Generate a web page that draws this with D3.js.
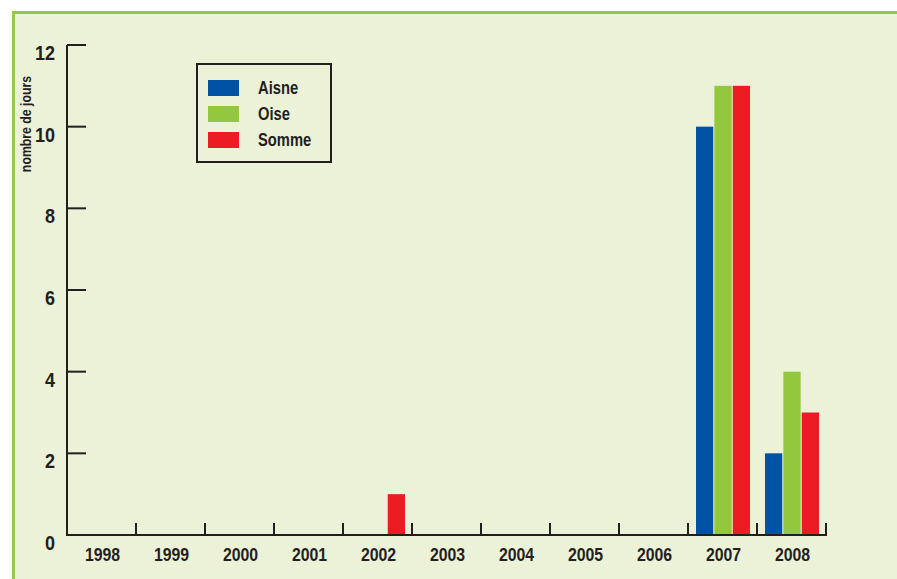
<!DOCTYPE html>
<html>
<head>
<meta charset="utf-8">
<script src="https://cdn.jsdelivr.net/npm/d3@7"></script>
<style>
  html, body { margin: 0; padding: 0; background: #ffffff; }
  svg { display: block; }
</style>
</head>
<body>
<svg id="chart" width="897" height="579"></svg>
<script>
// Number of days per year and per département
const years = ["1998", "1999", "2000", "2001", "2002", "2003", "2004", "2005", "2006", "2007", "2008"];
const seriesNames = ["Aisne", "Oise", "Somme"];
const aisne = [0, 0, 0, 0, 0, 0, 0, 0, 0, 10, 2];
const oise  = [0, 0, 0, 0, 0, 0, 0, 0, 0, 11, 4];
const somme = [0, 0, 0, 0, 1, 0, 0, 0, 0, 11, 3];
const yTicks = [0, 2, 4, 6, 8, 10, 12];
const yTitle = "nombre de jours";

const seriesValues = [aisne, oise, somme];
const colors = ["#0052a5", "#93c83e", "#ed1b24"];

const svg = d3.select("#chart");
const W = 897, H = 579;

// Panel background with green frame on top and left
svg.append("rect").attr("x", 12).attr("y", 11).attr("width", W - 12).attr("height", H - 11)
  .attr("fill", "#ecf2d8");
svg.append("path")
  .attr("d", `M13.5,${H} V12.5 H${W}`)
  .attr("fill", "none").attr("stroke", "#93c84a").attr("stroke-width", 3);

const x0 = 67, x1 = 826, yBase = 535, yTop = 45;

const x = d3.scaleBand().domain(years).range([x0, x1]).paddingInner(0).paddingOuter(0);
const xs = d3.scaleBand().domain(seriesNames).range([8, x.bandwidth() - 7]).paddingInner(0.06);
const y = d3.scaleLinear().domain([0, 12]).range([yBase, yTop]);

const ink = "#231f20";
const font = "'Liberation Sans', Arial, sans-serif";
const condense = 0.82; // horizontal squeeze for the condensed labels

// Bars
const rows = [];
years.forEach((yr, i) => seriesNames.forEach((s, j) => {
  rows.push({ year: yr, series: s, value: seriesValues[j][i], color: colors[j] });
}));
svg.append("g").selectAll("rect")
  .data(rows.filter(d => d.value > 0))
  .join("rect")
  .attr("x", d => x(d.year) + xs(d.series))
  .attr("y", d => y(d.value))
  .attr("width", xs.bandwidth())
  .attr("height", d => yBase - y(d.value))
  .attr("fill", d => d.color);

// Y axis: line with inward ticks
const yAxis = svg.append("g");
yAxis.append("line").attr("x1", x0).attr("x2", x0).attr("y1", y(12)).attr("y2", yBase)
  .attr("stroke", ink).attr("stroke-width", 2);
yAxis.selectAll("line.tk").data(yTicks.filter(t => t > 0)).join("line").attr("class", "tk")
  .attr("x1", x0).attr("x2", x0 + 19)
  .attr("y1", d => y(d)).attr("y2", d => y(d))
  .attr("stroke", ink).attr("stroke-width", 2);
yAxis.selectAll("text").data(yTicks).join("text")
  .attr("transform", d => `translate(55,${y(d) + 15}) scale(0.9,1)`)
  .attr("text-anchor", "end")
  .attr("font-family", font).attr("font-weight", "bold").attr("font-size", 20)
  .attr("fill", ink)
  .text(d => d);

// X axis: baseline with upward ticks at band edges
const xAxis = svg.append("g");
xAxis.append("line").attr("x1", x0 - 1).attr("x2", x1 + 1).attr("y1", yBase).attr("y2", yBase)
  .attr("stroke", ink).attr("stroke-width", 2);
const edges = years.map(d => x(d)).concat([x1]);
xAxis.selectAll("line.tk").data(edges).join("line").attr("class", "tk")
  .attr("x1", d => d).attr("x2", d => d)
  .attr("y1", yBase).attr("y2", yBase - 12)
  .attr("stroke", ink).attr("stroke-width", 2);
xAxis.selectAll("text").data(years).join("text")
  .attr("transform", d => `translate(${x(d) + x.bandwidth() / 2 + 1},561) scale(0.88,1)`)
  .attr("text-anchor", "middle")
  .attr("font-family", font).attr("font-weight", "bold").attr("font-size", 18)
  .attr("fill", ink)
  .text(d => d);

// Y axis title
svg.append("text")
  .attr("transform", `translate(31,124) rotate(-90) scale(${condense},1)`)
  .attr("text-anchor", "middle")
  .attr("font-family", font).attr("font-weight", "bold").attr("font-size", 15)
  .attr("fill", ink)
  .text(yTitle);

// Legend
const lg = svg.append("g");
lg.append("rect").attr("x", 197).attr("y", 64).attr("width", 134).attr("height", 98)
  .attr("fill", "none").attr("stroke", ink).attr("stroke-width", 2);
const item = lg.selectAll("g.item").data(seriesNames).join("g").attr("class", "item")
  .attr("transform", (d, i) => `translate(208,${80 + i * 26})`);
item.append("rect").attr("width", 31).attr("height", 16).attr("fill", (d, i) => colors[i]);
item.append("text")
  .attr("transform", `translate(50,14) scale(${condense},1)`)
  .attr("font-family", font).attr("font-weight", "bold").attr("font-size", 18)
  .attr("fill", ink)
  .text(d => d);
</script>
</body>
</html>
